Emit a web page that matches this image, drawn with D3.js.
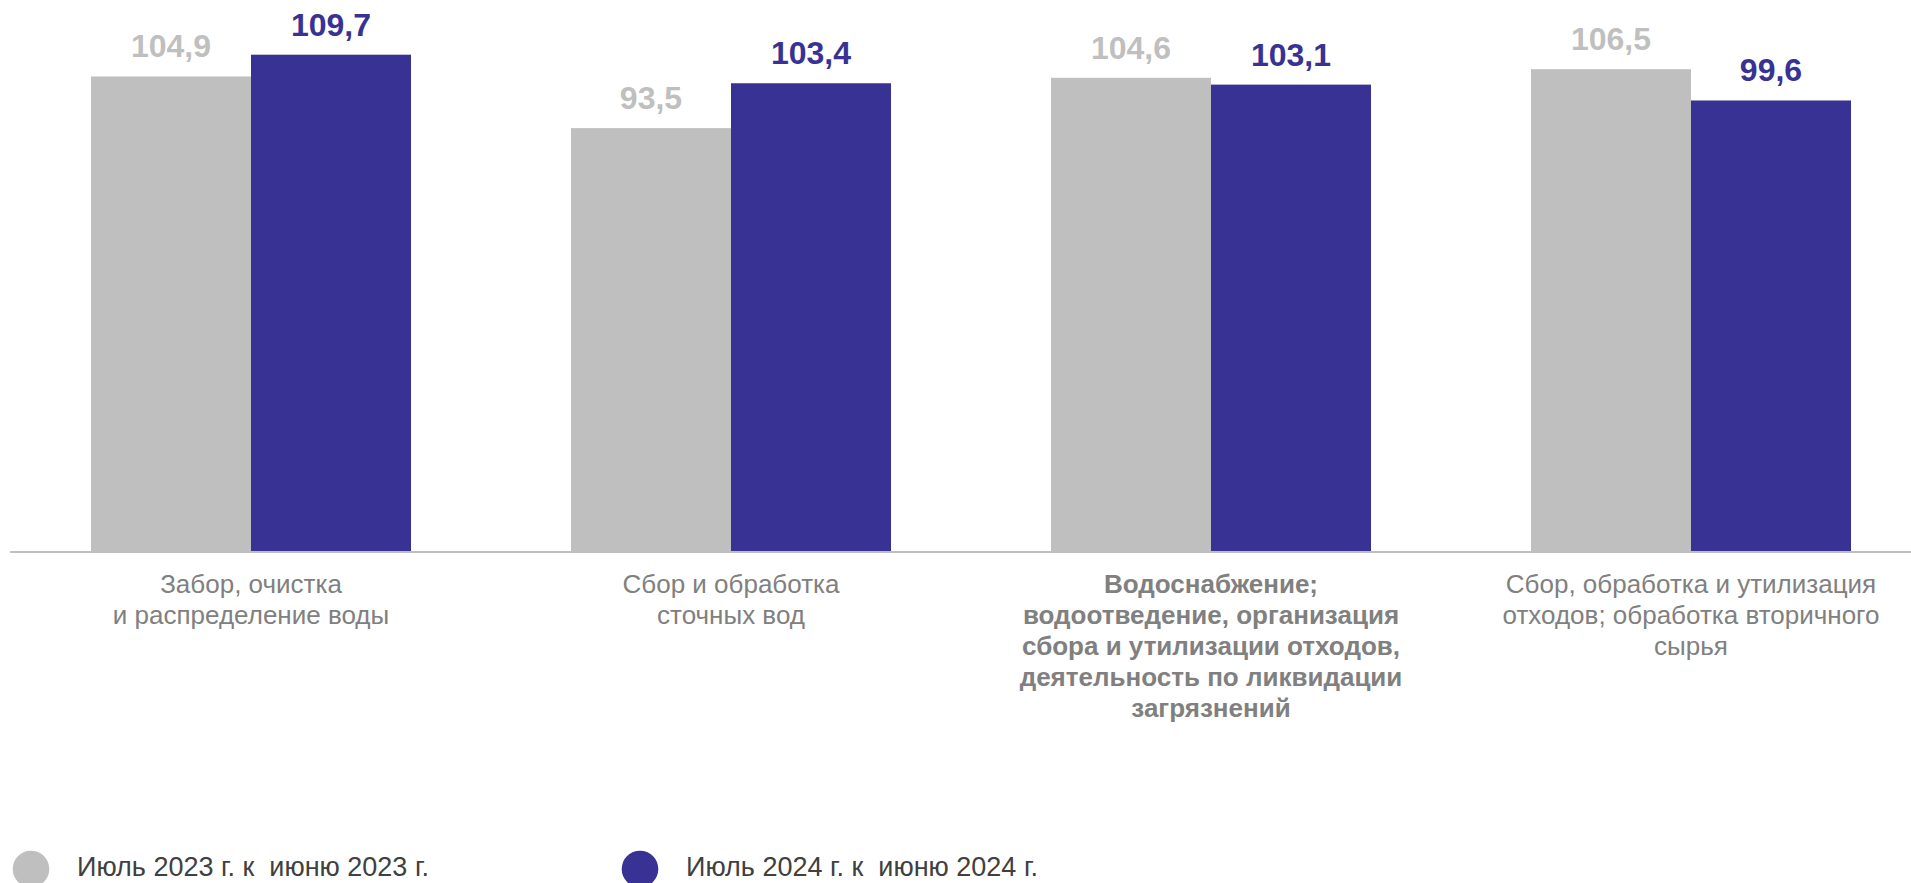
<!DOCTYPE html>
<html>
<head>
<meta charset="utf-8">
<script src="https://cdn.jsdelivr.net/npm/d3@7"></script>
<style>
  html, body { margin: 0; padding: 0; background: #fff; }
  svg { display: block; font-family: "Liberation Sans", Arial, sans-serif; }
</style>
</head>
<body>
<svg id="chart" width="1911" height="883"></svg>
<script>
const categories = [
  "Забор, очистка\nи распределение воды",
  "Сбор и обработка\nсточных вод",
  "Водоснабжение;\nводоотведение, организация\nсбора и утилизации отходов,\nдеятельность по ликвидации\nзагрязнений",
  "Сбор, обработка и утилизация\nотходов; обработка вторичного\nсырья"
];
const boldCategory = [false, false, true, false];
const seriesNames = ["Июль 2023 г. к  июню 2023 г.", "Июль 2024 г. к  июню 2024 г."];
const values2023 = [104.9, 93.5, 104.6, 106.5];
const values2024 = [109.7, 103.4, 103.1, 99.6];
const seriesColors = ["#BFBFBF", "#373294"];

const svg = d3.select("#chart");
const baseY = 552;

const x0 = d3.scaleBand().domain(categories).range([11, 1931]).paddingInner(0).paddingOuter(0);
const x1 = d3.scaleBand().domain(seriesNames).range([0, x0.bandwidth()]).paddingInner(0).paddingOuter(0.5);
const y = d3.scaleLinear().domain([0, 120]).range([baseY, 8]);

const data = categories.map((c, i) => ({
  cat: c,
  vals: [
    { s: seriesNames[0], v: values2023[i], color: seriesColors[0] },
    { s: seriesNames[1], v: values2024[i], color: seriesColors[1] }
  ]
}));

const fmt = v => d3.format(".1f")(v).replace(".", ",");

const groups = svg.append("g").selectAll("g").data(data).join("g")
  .attr("transform", d => `translate(${x0(d.cat)},0)`);

groups.selectAll("rect").data(d => d.vals).join("rect")
  .attr("x", d => x1(d.s))
  .attr("y", d => y(d.v))
  .attr("width", x1.bandwidth())
  .attr("height", d => y(0) - y(d.v))
  .attr("fill", d => d.color);

groups.selectAll("text.val").data(d => d.vals).join("text")
  .attr("class", "val")
  .attr("x", d => x1(d.s) + x1.bandwidth() / 2)
  .attr("y", d => y(d.v) - 19)
  .attr("text-anchor", "middle")
  .attr("font-size", 32)
  .attr("font-weight", "bold")
  .attr("fill", d => d.color)
  .text(d => fmt(d.v));

// axis line
const axis = svg.append("g").attr("transform", `translate(0,${baseY})`)
  .call(d3.axisBottom(x0).tickSize(0).tickFormat(""));
axis.select(".domain").attr("stroke", "#BFBFBF").attr("stroke-width", 2.2)
  .attr("d", "M10,0H1911");

// category labels
const labels = svg.append("g").selectAll("text").data(categories).join("text")
  .attr("text-anchor", "middle")
  .attr("font-size", 26)
  .attr("fill", "#808080")
  .attr("font-weight", (d, i) => boldCategory[i] ? "bold" : "normal")
  .attr("transform", d => `translate(${x0(d) + x0.bandwidth() / 2},593)`);
labels.each(function(d) {
  const lines = d.split("\n");
  d3.select(this).selectAll("tspan").data(lines).join("tspan")
    .attr("x", 0)
    .attr("y", (l, j) => j * 31)
    .text(l => l);
});

// legend
const legendX = [31, 640];
const legend = svg.append("g").selectAll("g").data(seriesNames).join("g")
  .attr("transform", (d, i) => `translate(${legendX[i]},869)`);
legend.append("circle").attr("r", 18.3).attr("fill", (d, i) => seriesColors[i]);
legend.append("text")
  .attr("x", 46).attr("y", 7)
  .attr("font-size", 27)
  .attr("fill", "#404040")
  .style("white-space", "pre")
  .text(d => d);
</script>
</body>
</html>
